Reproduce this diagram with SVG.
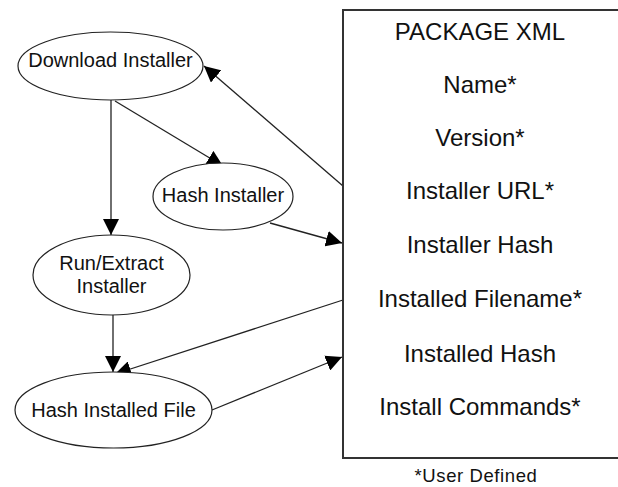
<svg xmlns="http://www.w3.org/2000/svg" width="618" height="487" viewBox="0 0 618 487">
  <style>
    .node ellipse { fill: #ffffff; stroke: #222222; stroke-width: 1.2; }
    .node text { font-family: "Liberation Sans", Arial, sans-serif; font-size: 20px; fill: #111111; text-anchor: middle; }
    .box rect { fill: #ffffff; stroke: #333333; stroke-width: 2; }
    .box text { font-family: "Liberation Sans", Arial, sans-serif; font-size: 24px; fill: #111111; text-anchor: middle; }
    .note { font-family: "Liberation Sans", Arial, sans-serif; font-size: 18.5px; fill: #111111; text-anchor: middle; letter-spacing: 0.6px; }
    .edges line { stroke: #222222; stroke-width: 1.3; fill: none; marker-end: url(#arrow); }
  </style>
  <defs>
    <marker id="arrow" viewBox="0 0 10 10" refX="10" refY="5" markerWidth="16" markerHeight="16" markerUnits="userSpaceOnUse" orient="auto">
      <path d="M0,0 L10,5 L0,10 Z" fill="#000000"/>
    </marker>
  </defs>

  <rect width="618" height="487" fill="#ffffff"/>

  <!-- connectors (drawn under the nodes) -->
  <g id="edges" class="edges">
    <line x1="111" y1="100" x2="111" y2="235"/>
    <line x1="115" y1="101" x2="223" y2="166"/>
    <line x1="343" y1="186" x2="204" y2="66"/>
    <line x1="270" y1="223" x2="342" y2="243"/>
    <line x1="343" y1="300" x2="115" y2="374"/>
    <line x1="113" y1="315" x2="113" y2="372"/>
    <line x1="212" y1="410" x2="342" y2="357"/>
  </g>

  <g id="download-installer" class="node">
    <ellipse cx="110.5" cy="66" rx="92.5" ry="34"/>
    <text x="110.5" y="67">Download Installer</text>
  </g>

  <g id="hash-installer" class="node">
    <ellipse cx="223" cy="196.5" rx="70" ry="33.5"/>
    <text x="223" y="202">Hash Installer</text>
  </g>

  <g id="run-extract-installer" class="node">
    <ellipse cx="111.5" cy="275" rx="78.5" ry="40"/>
    <text x="111.5" y="270">Run/Extract</text>
    <text x="111.5" y="293">Installer</text>
  </g>

  <g id="hash-installed-file" class="node">
    <ellipse cx="113.5" cy="410" rx="98.5" ry="38"/>
    <text x="113.5" y="417">Hash Installed File</text>
  </g>

  <g id="package-xml" class="box">
    <rect x="343" y="10" width="290" height="448"/>
    <text x="480" y="40">PACKAGE XML</text>
    <text x="480" y="93">Name*</text>
    <text x="480" y="146">Version*</text>
    <text x="480" y="199">Installer URL*</text>
    <text x="480" y="253">Installer Hash</text>
    <text x="480" y="307">Installed Filename*</text>
    <text x="480" y="362">Installed Hash</text>
    <text x="480" y="415">Install Commands*</text>
  </g>

  <text id="footnote" class="note" x="476" y="482">*User Defined</text>
</svg>
